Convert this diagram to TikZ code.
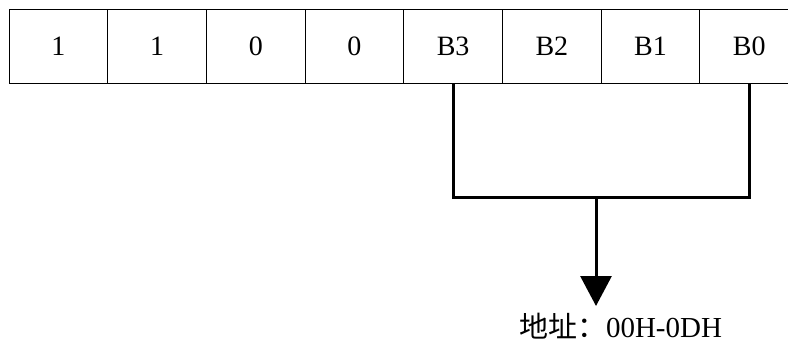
\documentclass[tikz,border=0pt]{standalone}
\usepackage{fontspec}
\setmainfont{Liberation Serif}
\newfontfamily\cjk{Noto Sans CJK SC}
\usetikzlibrary{positioning, arrows.meta}

\begin{document}
\begin{tikzpicture}[x=1pt, y=-1pt, node distance=0pt]
    \tikzstyle{bit}=[draw, rectangle, line width=1pt, outer sep=0pt, minimum width=98.7pt, minimum height=74pt, font=\fontsize{28}{30}\selectfont];
    \tikzstyle{wire}=[line width=3pt, miter limit=10];
    \clip (0,0) rectangle (788,343);
    \node[bit] (b7) at (58.35,46.3) {1};
    \node[bit, right=of b7] (b6) {1};
    \node[bit, right=of b6] (b5) {0};
    \node[bit, right=of b5] (b4) {0};
    \node[bit, right=of b4] (b3) {B3};
    \node[bit, right=of b3] (b2) {B2};
    \node[bit, right=of b2] (b1) {B1};
    \node[bit, right=of b1] (b0) {B0};

    \coordinate (join) at (596,197);
    \coordinate (tip) at (596,306);
    \node[anchor=base, inner sep=0pt, font=\fontsize{29}{31}\selectfont] (addr) at (620.5,337.3) {{\cjk 地址：}00H-0DH};

    \draw[wire] (b3.south) -- (b3.south |- join) -- (b0.south |- join) -- (b0.south);
    \path[wire, -{Triangle[width=31pt, length=30pt]}]
    (join) edge (tip);
  \end{tikzpicture}
\end{document}
